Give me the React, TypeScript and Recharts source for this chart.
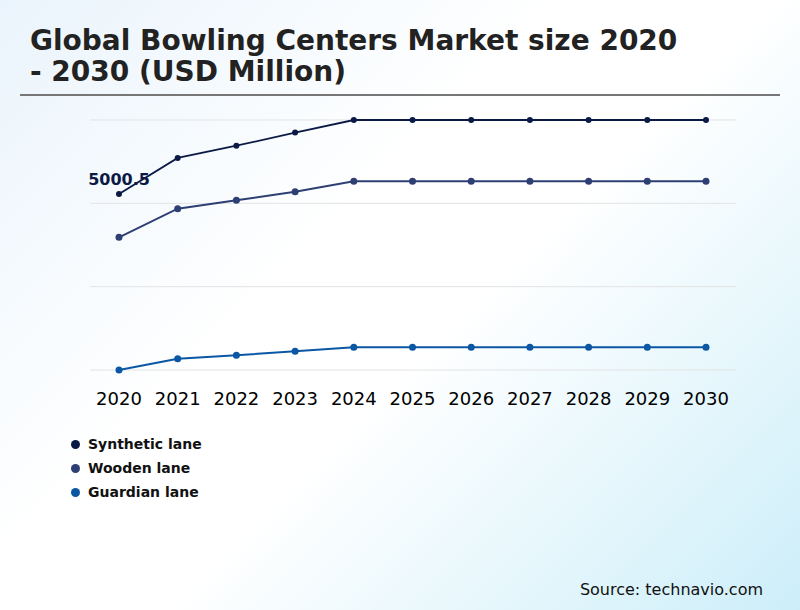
import React from 'react'
import { LineChart, Line, XAxis, YAxis, CartesianGrid } from 'recharts'

const YEARS = ['2020', '2021', '2022', '2023', '2024', '2025', '2026', '2027', '2028', '2029', '2030']
const SYNTHETIC = [5000.5, 5975, 6305, 6660, 7000, 7000, 7000, 7000, 7000, 7000, 7000]
const WOODEN = [3833, 4605, 4832, 5064, 5345, 5345, 5345, 5345, 5345, 5345, 5345]
const GUARDIAN = [250, 555, 647, 755, 863, 863, 863, 863, 863, 863, 863]
const Y_TICKS = [250, 2500, 4750, 7000]

const SERIES = [
  { key: 'synthetic', name: 'Synthetic lane', color: '#0b1a44', width: 1.8, r: 3 },
  { key: 'wooden', name: 'Wooden lane', color: '#2e3f74', width: 2, r: 3.5 },
  { key: 'guardian', name: 'Guardian lane', color: '#0b57a4', width: 2, r: 3.5 },
]

const data = YEARS.map((year, i) => ({
  year,
  synthetic: SYNTHETIC[i],
  wooden: WOODEN[i],
  guardian: GUARDIAN[i],
}))

const FONT = '"DejaVu Sans", sans-serif'

function FirstLabel(props: any) {
  const { x, y, index, value } = props
  if (index !== 0) return null
  return (
    <text x={x} y={y - 9} textAnchor="middle" fontFamily={FONT} fontWeight="bold" fontSize={16} fill="#0b1a44">
      {value}
    </text>
  )
}

export default function App() {
  return (
    <div
      style={{
        position: 'relative',
        width: 800,
        height: 610,
        overflow: 'hidden',
        background: 'linear-gradient(135deg, #eaf4fc 0%, #ffffff 40%, #ffffff 55%, #cdeef9 100%)',
        fontFamily: FONT,
      }}
    >
      <style>{`body{margin:0}`}</style>
      <div
        style={{
          position: 'absolute',
          left: 30,
          top: 25,
          fontSize: 28,
          fontWeight: 'bold',
          lineHeight: '31px',
          color: '#222',
        }}
      >
        Global Bowling Centers Market size 2020
        <br />- 2030 (USD Million)
      </div>
      <div style={{ position: 'absolute', left: 20, top: 94, width: 760, height: 2, background: '#777' }} />

      <div style={{ position: 'absolute', left: 0, top: 0 }}>
        <LineChart width={800} height={420} data={data} margin={{ top: 120, right: 64, bottom: 10, left: 90 }}>
          <CartesianGrid vertical={false} stroke="#e3e3e3" />
          <XAxis
            dataKey="year"
            axisLine={false}
            tickLine={false}
            padding={{ left: 29, right: 30 }}
            tick={{ fontSize: 18, fill: '#000', fontFamily: FONT }}
            tickMargin={16}
            interval={0}
            height={40}
          />
          <YAxis hide domain={[250, 7000]} ticks={Y_TICKS} />
          {SERIES.map((s) => (
            <Line
              key={s.key}
              type="linear"
              dataKey={s.key}
              name={s.name}
              stroke={s.color}
              strokeWidth={s.width}
              dot={{ r: s.r, fill: s.color, stroke: s.color, strokeWidth: 0 }}
              activeDot={false}
              isAnimationActive={false}
              label={s.key === 'synthetic' ? <FirstLabel /> : undefined}
            />
          ))}
        </LineChart>
      </div>

      <div style={{ position: 'absolute', left: 71, top: 432 }}>
        {SERIES.map((s) => (
          <div key={s.key} style={{ display: 'flex', alignItems: 'center', height: 24 }}>
            <span style={{ width: 9, height: 9, borderRadius: '50%', background: s.color, marginRight: 8 }} />
            <span style={{ fontWeight: 'bold', fontSize: 14, color: '#111' }}>{s.name}</span>
          </div>
        ))}
      </div>

      <div style={{ position: 'absolute', right: 37, top: 580, fontSize: 16, color: '#111' }}>
        Source: technavio.com
      </div>
    </div>
  )
}
